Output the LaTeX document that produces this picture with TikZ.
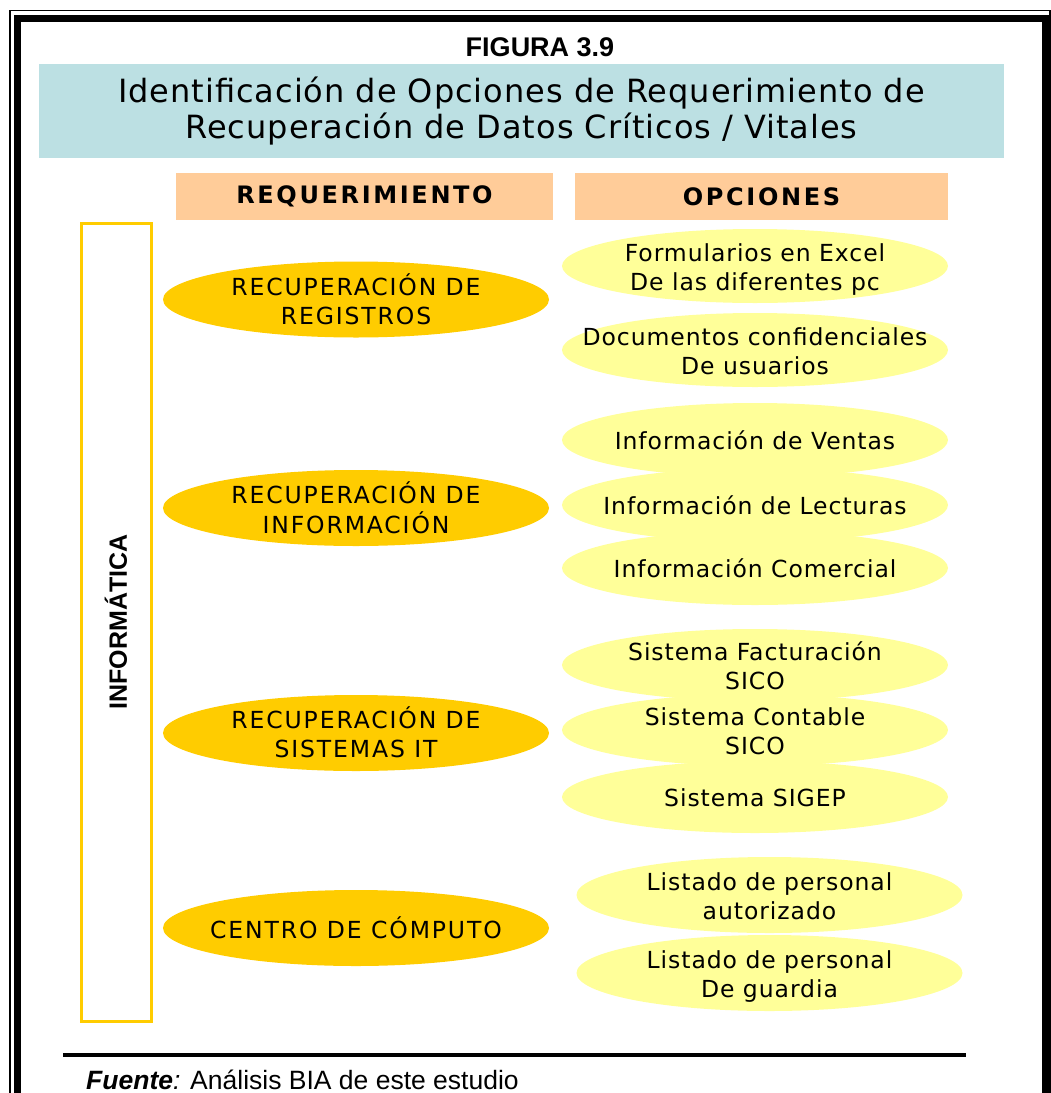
\documentclass[tikz,border=0pt]{standalone}
\usepackage{fontspec}
\setmainfont{DejaVu Sans}
\newfontfamily\arialf{Liberation Sans}
\newfontfamily\titf[LetterSpace=3]{DejaVu Sans}
\newfontfamily\verdf[LetterSpace=4]{DejaVu Sans}
\newfontfamily\verdcf[LetterSpace=8]{DejaVu Sans}
\newfontfamily\cabf[LetterSpace=11]{DejaVu Sans}
\usetikzlibrary{shapes.geometric}
\definecolor{oro}{RGB}{255,204,0}
\definecolor{amarillo}{RGB}{255,255,153}
\definecolor{durazno}{RGB}{255,204,153}
\definecolor{celeste}{RGB}{188,224,227}
% texto que no cambia el tamano de la elipse
\newcommand{\et}[1]{\smash{\raisebox{-10pt}{\makebox[0pt]{\begin{tabular}{@{}c@{}}#1\end{tabular}}}}}

\begin{document}
\begin{tikzpicture}[x=1pt, y=-1pt]
\tikzset{req/.style={ellipse, fill=oro, inner sep=0pt, minimum width=386pt, minimum height=76pt, font=\verdcf\fontsize{23.5}{29}\selectfont}}
\tikzset{opc/.style={ellipse, fill=amarillo, inner sep=0pt, minimum width=386pt, minimum height=74pt, font=\verdf\fontsize{23.5}{29}\selectfont}}
\tikzset{cab/.style={fill=durazno, inner sep=0pt, minimum height=47pt, font=\cabf\bfseries\fontsize{24}{28}\selectfont}}
\useasboundingbox (0,0) rectangle (1051,1093);
\clip (0,0) rectangle (1051,1093);
% marco
\draw[line width=1.5pt] (10,10.5) rectangle (1050,1120);
\draw[line width=7pt] (17.5,18.5) rectangle (1045,1112);
% titulo
\node[font=\arialf\bfseries\fontsize{27}{32}\selectfont] (T0) at (540,47) {FIGURA 3.9};
\node[fill=celeste, minimum width=965pt, minimum height=94pt, inner sep=0pt, align=center, font=\titf\fontsize{32}{36}\selectfont] (T1) at (521.5,111) {Identificación de Opciones de Requerimiento de\\Recuperación de Datos Críticos / Vitales};
\node[cab, minimum width=377pt] (C1) at (364.5,196.5) {REQUERIMIENTO};
\node[cab, minimum width=373pt] (C2) at (761.5,196.5) {OPCIONES};
% area
\node[draw=oro, line width=3pt, rotate=90, minimum width=798pt, minimum height=70pt, inner sep=0pt, font=\arialf\bfseries\fontsize{25}{30}\selectfont] (A) at (116,622) {INFORMÁTICA};
% requerimientos
\node[req] (R1) at (356,299.5) {\et{RECUPERACIÓN DE\\REGISTROS}};
\node[req] (R2) at (356,508) {\et{RECUPERACIÓN DE\\INFORMACIÓN}};
\node[req] (R3) at (356,733) {\et{RECUPERACIÓN DE\\SISTEMAS IT}};
\node[req] (R4) at (356,928) {\et{CENTRO DE CÓMPUTO}};
% opciones
\node[opc] (O1) at (755,266) {\et{Formularios en Excel\\De las diferentes pc}};
\node[opc] (O2) at (755,350) {\et{Documentos confidenciales\\De usuarios}};
\node[opc] (O3) at (755,440) {\et{Información de Ventas}};
\node[opc] (O4) at (755,505) {\et{Información de Lecturas}};
\node[opc] (O5) at (755,568) {\et{Información Comercial}};
\node[opc, minimum height=72pt] (O6) at (755,665) {\et{Sistema Facturación\\SICO}};
\node[opc, minimum height=72pt] (O7) at (755,730) {\et{Sistema Contable\\SICO}};
\node[opc, minimum height=72pt] (O8) at (755,797) {\et{Sistema SIGEP}};
\node[opc, minimum height=76pt] (O9) at (769.5,895) {\et{Listado de personal\\autorizado}};
\node[opc, minimum height=76pt] (O10) at (769.5,973) {\et{Listado de personal\\De guardia}};
% fuente
\draw[line width=4pt] (63,1055) -- (966,1055);
\node[anchor=base west, inner sep=0pt, font=\arialf\fontsize{26.5}{30}\selectfont] (F) at (86,1089) {\textbf{\textit{Fuente}}\textit{:} Análisis BIA de este estudio};
\end{tikzpicture}
\end{document}
